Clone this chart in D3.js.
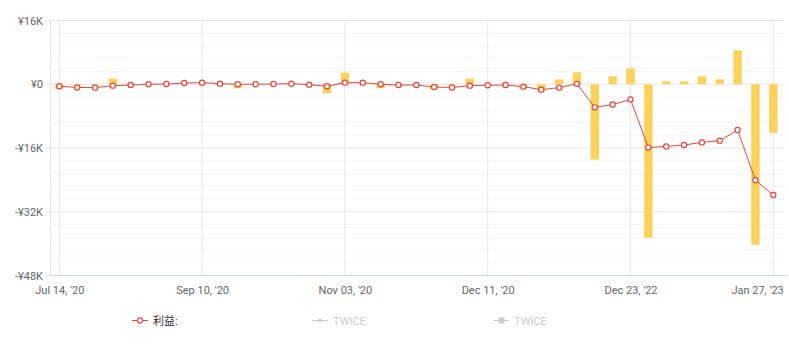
<!DOCTYPE html>
<html>
<head>
<meta charset="utf-8">
<script src="https://cdn.jsdelivr.net/npm/d3@7"></script>
<style>
  html, body { margin: 0; padding: 0; background: #fff; }
  svg { display: block; font-family: Roboto, "Noto Sans", "Noto Sans CJK SC", sans-serif; }
</style>
</head>
<body>
<svg id="chart" width="789" height="347"></svg>
<script>
// ---- data ----
const tickIndices = [0, 8, 16, 24, 32, 40];
const tickLabels = ["Jul 14, '20", "Sep 10, '20", "Nov 03, '20", "Dec 11, '20", "Dec 23, '22", "Jan 27, '23"];

const profitLine = [
  -500, -800, -850, -350, -200, 0, 50, 300, 400, 150,
  0, 0, 50, 150, -100, -500, 400, 400, 0, -200,
  -200, -700, -800, -350, -250, -200, -600, -1350, -850, 100,
  -5800, -5100, -3800, -15900, -15600, -15250, -14600, -14150, -11500, -24100,
  -27800
];

const barValues = [
  -1200, -300, -200, 1400, 300, 100, 200, 300, 200, -200,
  -1000, 100, 100, 200, -400, -2300, 2900, 200, -1000, -400,
  100, -1300, -300, 1400, 100, 300, -1000, -1900, 1200, 3000,
  -18900, 2000, 4000, -38500, 750, 750, 2000, 1250, 8500, -40300,
  -12200
];

const yTicks = [16000, 0, -16000, -32000, -48000];
const yTickLabels = ["¥16K", "¥0", "-¥16K", "-¥32K", "-¥48K"];
const legendItems = ["利益:", "TWICE", "TWICE"];

// ---- layout ----
const svg = d3.select("#chart");
const plot = { left: 50, right: 784, top: 20.5, bottom: 275.5 };
const idx = d3.range(profitLine.length);

const x = d3.scalePoint().domain(idx).range([59.3, 773.3]);
const y = d3.scaleLinear().domain([-48000, 16000]).range([plot.bottom, plot.top]);

// minor grid
const minorTicks = d3.range(-48000, 16001, 3200).filter(v => v % 16000 !== 0);
svg.append("g").selectAll("line").data(minorTicks).join("line")
  .attr("x1", plot.left).attr("x2", plot.right)
  .attr("y1", d => y(d)).attr("y2", d => y(d))
  .attr("stroke", "#f4f4f4").attr("stroke-width", 1);

// major grid
svg.append("g").selectAll("line").data(yTicks.slice(0, -1)).join("line")
  .attr("x1", plot.left).attr("x2", plot.right)
  .attr("y1", d => y(d)).attr("y2", d => y(d))
  .attr("stroke", "#e6e6e6").attr("stroke-width", 1);

// vertical grid
svg.append("g").selectAll("line").data(tickIndices).join("line")
  .attr("x1", d => x(d)).attr("x2", d => x(d))
  .attr("y1", plot.top).attr("y2", plot.bottom)
  .attr("stroke", "#e6e6e6").attr("stroke-width", 1);

// left axis line
svg.append("line")
  .attr("x1", plot.left + 0.5).attr("x2", plot.left + 0.5)
  .attr("y1", plot.top).attr("y2", plot.bottom)
  .attr("stroke", "#e6e6e6");

// y axis
const yAxis = d3.axisLeft(y).tickValues(yTicks)
  .tickFormat((d, i) => yTickLabels[i]).tickSize(4).tickPadding(3);
const gy = svg.append("g").attr("transform", `translate(${plot.left},0)`).call(yAxis);
gy.select(".domain").remove();
gy.selectAll(".tick line").attr("stroke", "#e6e6e6");
gy.selectAll("text").attr("fill", "#666").style("font-size", "11px")
  .style("font-family", "Roboto, 'Noto Sans', sans-serif");

// x axis
const xAxis = d3.axisBottom(x).tickValues(tickIndices)
  .tickFormat(d => tickLabels[tickIndices.indexOf(d)]).tickSize(0).tickPadding(11);
const gx = svg.append("g").attr("transform", `translate(0,${plot.bottom})`).call(xAxis);
gx.select(".domain").remove();
gx.selectAll("text").attr("fill", "#666").style("font-size", "11px")
  .style("font-family", "Roboto, 'Noto Sans', sans-serif");
// keep the last label inside the chart edge
gx.selectAll(".tick").filter(d => d === tickIndices[tickIndices.length - 1])
  .select("text").attr("text-anchor", "end").attr("dx", 10);
svg.append("line")
  .attr("x1", plot.left).attr("x2", plot.right + 2)
  .attr("y1", plot.bottom).attr("y2", plot.bottom)
  .attr("stroke", "#ccd6eb").attr("stroke-width", 1);

// bars
const bw = 8.5;
svg.append("g").selectAll("rect").data(barValues).join("rect")
  .attr("x", (d, i) => x(i) - bw / 2)
  .attr("width", bw)
  .attr("y", d => Math.min(y(d), y(0)))
  .attr("height", d => Math.abs(y(d) - y(0)))
  .attr("fill", "#fbd35c");

// line
const line = d3.line().x((d, i) => x(i)).y(d => y(d));
svg.append("path").datum(profitLine)
  .attr("d", line).attr("fill", "none")
  .attr("stroke", "#e4463d").attr("stroke-width", 1);

svg.append("g").selectAll("circle").data(profitLine).join("circle")
  .attr("cx", (d, i) => x(i)).attr("cy", d => y(d)).attr("r", 2.6)
  .attr("fill", "#fff").attr("stroke", "#e4463d").attr("stroke-width", 1.2);

// legend
const lg = svg.append("g").attr("transform", "translate(0,320)");
const legendX = [132, 312, 493];
legendItems.forEach((name, i) => {
  const g = lg.append("g").attr("transform", `translate(${legendX[i]},0)`);
  const col = i === 0 ? "#e4463d" : "#cccccc";
  g.append("line").attr("x1", 0).attr("x2", 16).attr("y1", 0.5).attr("y2", 0.5)
    .attr("stroke", col).attr("stroke-width", 1);
  if (i === 0) {
    g.append("circle").attr("cx", 8).attr("cy", 0.5).attr("r", 2.6)
      .attr("fill", "#fff").attr("stroke", col).attr("stroke-width", 1.2);
  } else if (i === 1) {
    g.append("circle").attr("cx", 8).attr("cy", 0.5).attr("r", 2).attr("fill", col);
  } else {
    g.append("rect").attr("x", 5.5).attr("y", -2.5).attr("width", 6).attr("height", 6).attr("fill", col);
  }
  g.append("text").attr("x", 21).attr("y", 4.5)
    .attr("fill", i === 0 ? "#333" : "#cccccc")
    .style("font-size", "11px")
    .style("font-family", "Roboto, 'Noto Sans CJK SC', sans-serif")
    .text(name);
});
</script>
</body>
</html>
